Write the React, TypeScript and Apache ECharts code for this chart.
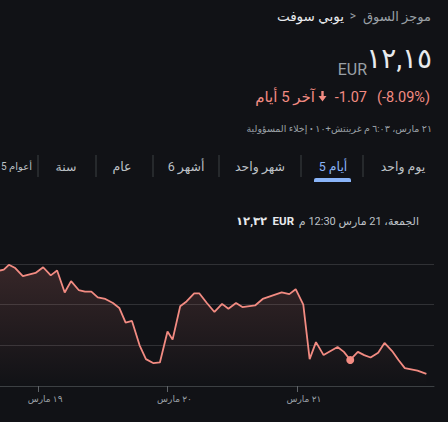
import React, { useEffect, useRef } from "react";
import * as echarts from "echarts";

const W = 448;
const H = 422;
const BG = "#111216";
const RED = "#f28b82";
const F = "Roboto, 'DejaVu Sans', sans-serif";

// axis ticks (trading days) and 30-minute session slots
const dayLabels = ["١٨ مارس", "١٩ مارس", "٢٠ مارس", "٢١ مارس", "٢٤ مارس"];
const tickDays = ["١٩ مارس", "٢٠ مارس", "٢١ مارس"];
const sessionSlots = ["9:00", "9:30", "10:00", "10:30", "11:00", "11:30", "12:00", "12:30", "13:00", "13:30", "14:00", "14:30", "15:00", "15:30", "16:00", "16:30", "17:00"];

// session minutes since 19 Mar 09:00 (each session = 510 min) and prices (EUR)
const minutes = [-150, -135, -115, -90, -60, -10, 20, 50, 75, 105, 130, 160, 185, 210, 235, 265, 295, 320, 345, 370, 400, 425, 455, 480, 510, 530, 560, 585, 615, 635, 665, 695, 725, 750, 780, 805, 855, 885, 960, 990, 1015, 1045, 1070, 1095, 1125, 1180, 1205, 1230, 1260, 1285, 1310, 1340, 1365, 1395, 1420, 1445, 1495, 1530];
const prices = [13.42, 13.43, 13.49, 13.45, 13.35, 13.39, 13.46, 13.36, 13.42, 13.15, 13.29, 13.18, 13.16, 13.16, 13.09, 13.07, 13.02, 12.96, 12.78, 12.8, 12.5, 12.33, 12.28, 12.29, 12.67, 12.57, 12.98, 13.04, 13.14, 13.14, 13.02, 12.91, 13.01, 12.95, 13.02, 12.97, 12.99, 13.07, 13.15, 13.13, 13.19, 13.0, 12.33, 12.54, 12.38, 12.48, 12.42, 12.32, 12.42, 12.38, 12.35, 12.41, 12.53, 12.43, 12.32, 12.22, 12.19, 12.15];

const hoverMinute = 1230;
const hoverPrice = 12.32;

const tabLabels = ["يوم واحد", "5 أيام", "شهر واحد", "6 أشهر", "عام", "سنة", "5 أعوام"];
const selectedTab = 1;

function buildCategories(): string[] {
  const cats: string[] = [];
  sessionSlots.slice(12).forEach((s) => cats.push(dayLabels[0] + "|" + s));
  for (let d = 1; d <= 3; d++) sessionSlots.forEach((s) => cats.push(dayLabels[d] + "|" + s));
  cats.push(dayLabels[4] + "|" + sessionSlots[0]);
  cats.push(dayLabels[4] + "|" + sessionSlots[1]);
  return cats;
}

export default function App() {
  const ref = useRef<HTMLDivElement>(null);
  useEffect(() => {
    if (!ref.current) return;
    const chart = echarts.init(ref.current, null, { renderer: "svg", width: W, height: H });
    const cats = buildCategories();
    const isTick = (idx: number) => {
      const [d, s] = cats[idx].split("|");
      return tickDays.includes(d) && s === sessionSlots[0];
    };
    const tabCenters = [403, 333, 260, 186, 122, 66];
    const seps = [363, 301, 219, 153, 96, 38];
    const graphics: any[] = [];
    const txt = (text: string, x: number, y: number, size: number, fill: string, align = "right", weight: any = "normal") => ({
      type: "text",
      x,
      y,
      silent: true,
      style: { text, fill, fontSize: size, fontFamily: F, fontWeight: weight, textAlign: align, textVerticalAlign: "middle" },
    });
    graphics.push(txt("موجز السوق", 431, 16, 13, "#9aa0a6"));
    graphics.push(txt(">", 353, 16, 12, "#9aa0a6", "center"));
    graphics.push(txt("يوبي سوفت", 344, 16, 13.5, "#e8eaed"));
    graphics.push(txt("١٢,١٥", 432, 58, 28, "#e8eaed"));
    graphics.push(txt("EUR", 367, 69, 16, "#9aa0a6"));
    graphics.push(txt("(-8.09%)", 430, 97, 14.5, RED));
    graphics.push(txt("-1.07", 367, 97, 14.5, RED));
    graphics.push({
      type: "polygon",
      silent: true,
      shape: { points: [[321.3, 91], [323.7, 91], [323.7, 96], [326.5, 96], [322.5, 101.5], [318.5, 96], [321.3, 96]] },
      style: { fill: RED },
    });
    graphics.push(txt("آخر 5 أيام", 315, 97, 15, RED));
    graphics.push(txt("٢١ مارس، ٦:٠٣ م غرينتش+١٠ • إخلاء المسؤولية", 432, 128, 9.5, "#9aa0a6"));
    tabLabels.forEach((t, i) => {
      if (i < tabCenters.length) {
        graphics.push(txt(t, tabCenters[i], 166, 12.5, i === selectedTab ? "#8ab4f8" : "#bdc1c6", "center"));
      } else {
        graphics.push(txt(t, 1, 166, 10, "#bdc1c6", "left"));
      }
    });
    seps.forEach((x) =>
      graphics.push({ type: "line", silent: true, shape: { x1: x, y1: 155, x2: x, y2: 177 }, style: { stroke: "#3c4043", lineWidth: 1 } })
    );
    graphics.push({ type: "rect", silent: true, shape: { x: 314, y: 178, width: 37, height: 4, r: [2, 2, 0, 0] }, style: { fill: "#8ab4f8" } });
    graphics.push(txt("الجمعة، 21 مارس 12:30 م", 419, 221, 11, "#bdc1c6"));
    graphics.push(txt("EUR", 294, 221, 11.5, "#e8eaed", "right", "bold"));
    graphics.push(txt("١٢,٣٢", 267, 221, 11.5, "#e8eaed", "right", "bold"));

    chart.setOption({
      animation: false,
      backgroundColor: BG,
      grid: { left: 0, right: 14, top: 264, bottom: 36, containLabel: false },
      xAxis: [
        {
          type: "category",
          data: cats,
          boundaryGap: false,
          axisLine: { lineStyle: { color: "#3c4043", width: 1 } },
          axisTick: { show: true, length: 6, interval: (i: number) => isTick(i), lineStyle: { color: "#5f6368" } },
          axisLabel: {
            interval: (i: number) => isTick(i),
            formatter: (v: string) => v.split("|")[0],
            color: "#9aa0a6",
            fontSize: 9,
            fontFamily: F,
            margin: 8,
            padding: [0, 0, 0, 14],
          },
          splitLine: { show: false },
        },
        { type: "value", show: false, min: -150, max: 1560 },
      ],
      yAxis: {
        type: "value",
        min: 12,
        max: 13.5,
        interval: 0.5,
        axisLabel: { show: false },
        axisLine: { show: false },
        axisTick: { show: false },
        splitLine: { lineStyle: { color: "#303135", width: 1.2 } },
      },
      series: [
        {
          type: "line",
          xAxisIndex: 1,
          data: minutes.map((m, i) => [m, prices[i]]),
          showSymbol: false,
          lineStyle: { color: RED, width: 1.8 },
          areaStyle: {
            origin: "start",
            color: new echarts.graphic.LinearGradient(0, 0, 0, 1, [
              { offset: 0, color: "rgba(242,139,130,0.24)" },
              { offset: 1, color: "rgba(242,139,130,0)" },
            ]),
          },
          markLine: {
            silent: true,
            symbol: ["none", "none"],
            label: { show: false },
            lineStyle: { color: "#9aa0a6", type: [2, 2], width: 1 },
            data: [[{ coord: [hoverMinute, 13.85] }, { coord: [hoverMinute, 12] }]],
          },
          markPoint: {
            silent: true,
            symbol: "circle",
            symbolSize: 8,
            label: { show: false },
            itemStyle: { color: RED },
            data: [{ coord: [hoverMinute, hoverPrice] }],
          },
        },
      ],
      graphic: graphics,
    });
    return () => chart.dispose();
  }, []);
  return <div ref={ref} style={{ position: "fixed", left: 0, top: 0, width: W, height: H, background: BG }} />;
}
